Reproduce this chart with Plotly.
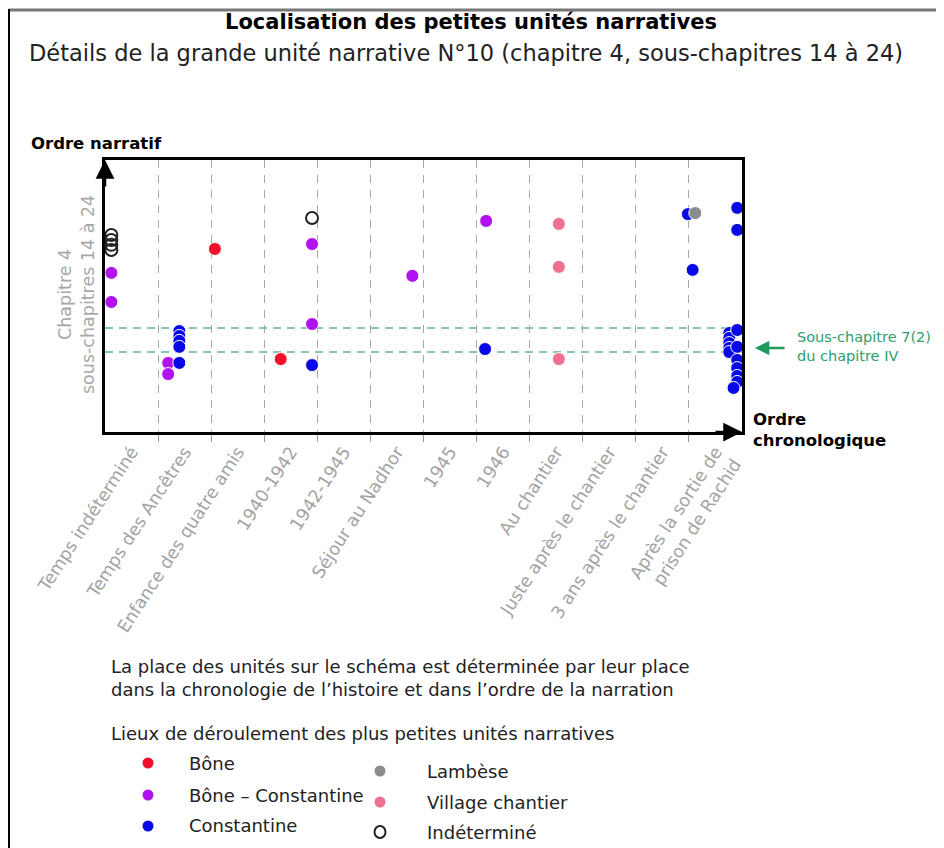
import plotly.graph_objects as go

# ---------------- data ----------------
categories = ["Temps indéterminé", "Temps des Ancêtres", "Enfance des quatre amis",
              "1940-1942", "1942-1945", "Séjour au Nadhor", "1945", "1946",
              "Au chantier", "Juste après le chantier", "3 ans après le chantier",
              "Après la sortie de<br>prison de Rachid"]

bone_x = [2.07, 3.31]
bone_y = [67.3, 26.8]

bone_const_x = [0.12, 0.12, 1.19, 1.19, 3.90, 3.90, 5.79, 7.18]
bone_const_y = [58.5, 47.8, 25.4, 21.3, 69.1, 39.7, 57.4, 77.6]

const_x = [1.40, 1.40, 1.40, 1.40, 1.40, 3.90, 7.16, 10.98, 11.07, 11.91, 11.91,
           11.76, 11.76, 11.76, 11.76, 11.76,
           11.91, 11.91, 11.91, 11.91, 11.91, 11.91, 11.84]
const_y = [37.1, 35.3, 33.5, 31.3, 25.4, 24.6, 30.5, 80.1, 59.6, 82.4, 74.3,
           36.4, 34.6, 32.7, 30.9, 29.4,
           37.5, 31.3, 26.5, 23.5, 20.6, 18.4, 16.2]

lambese_x = [11.12]
lambese_y = [80.5]

village_x = [8.55, 8.55, 8.55]
village_y = [76.5, 60.7, 26.8]

indet_x = [0.12, 0.12, 0.12, 0.12, 3.90]
indet_y = [72.4, 70.6, 68.8, 66.9, 78.7]

sous_chapitre_band = [38.2, 29.4]   # sous-chapitre 7(2) du chapitre IV

series_names = ["Bône", "Bône – Constantine", "Constantine", "Lambèse", "Village chantier", "Indéterminé"]
series_colors = ["#f2102c", "#b012f0", "#0808e6", "#8c8c8c", "#f0708f", "#222222"]

# ---------------- geometry helpers (reference pixel -> paper) ----------------
OFF = 8                      # page body margin
W, H = 944 - OFF, 848 - OFF
L, R, T, B = 105 - OFF, 742 - OFF, 160 - OFF, 432 - OFF
def px(x): return (x - OFF - L) / (R - L)
def py(y): return (B - (y - OFF)) / (B - T)

FONT = "DejaVu Sans"
fig = go.Figure()

def add_series(xs, ys, name, color, open_=False):
    if open_:
        marker = dict(symbol="circle-open", size=12, color=color, line=dict(width=2, color=color))
    else:
        marker = dict(symbol="circle", size=13, color=color, line=dict(width=1, color="white"))
    fig.add_trace(go.Scatter(x=xs, y=ys, mode="markers", name=name, marker=marker,
                             showlegend=False, cliponaxis=False, hoverinfo="skip"))

add_series(indet_x, indet_y, series_names[5], series_colors[5], open_=True)
add_series(bone_const_x, bone_const_y, series_names[1], series_colors[1])
add_series(bone_x, bone_y, series_names[0], series_colors[0])
add_series(village_x, village_y, series_names[4], series_colors[4])
add_series(const_x, const_y, series_names[2], series_colors[2])
add_series(lambese_x, lambese_y, series_names[3], series_colors[3])

# green reference band lines
for yv in sous_chapitre_band:
    fig.add_shape(type="line", xref="x", yref="y", x0=0, x1=12.07, y0=yv, y1=yv,
                  line=dict(color="#5fb394", width=1.5, dash="8px,6px"), layer="below")

fig.update_xaxes(range=[0, 12], tickmode="array",
                 tickvals=[i + 0.5 for i in range(len(categories))], ticktext=categories,
                 tickangle=-57, ticks="", showgrid=False, zeroline=False,
                 tickfont=dict(family=FONT, size=17.5, color="#a3a3a3"),
                 showline=True, linecolor="black", linewidth=2.5, mirror=True,
                 minor=dict(tickmode="array", tickvals=list(range(1, 12)), ticks="outside",
                            ticklen=7, tickcolor="#999999", showgrid=True,
                            gridcolor="#a8a8a8", gridwidth=1, griddash="8px,7px"))
fig.update_yaxes(range=[0, 100], showticklabels=False, ticks="", showgrid=False, zeroline=False,
                 showline=True, linecolor="black", linewidth=2.5, mirror=True)

ann = []
# axis arrows
ann.append(dict(xref="x", yref="y", x=0, y=100, ax=0, ay=28,
                text="", showarrow=True, arrowhead=2, arrowsize=1.5, arrowwidth=2.5, arrowcolor="black"))
ann.append(dict(xref="x", yref="y", x=12, y=0, ax=-28, ay=0,
                text="", showarrow=True, arrowhead=2, arrowsize=1.5, arrowwidth=2.5, arrowcolor="black"))
# green arrow + label
ann.append(dict(xref="paper", yref="paper", x=px(755), y=py(348), ax=31, ay=0, text="", showarrow=True,
                arrowhead=2, arrowsize=1.1, arrowwidth=2.6, arrowcolor="#1f9a5e"))
ann.append(dict(xref="paper", yref="paper", x=px(795), y=py(346), xanchor="left", yanchor="middle",
                text="Sous-chapitre 7(2)<br>du chapitre IV", showarrow=False, align="left",
                font=dict(family=FONT, size=14.5, color="#2e9e6c")))
# axis titles
ann.append(dict(xref="paper", yref="paper", x=px(29), y=py(143), xanchor="left", yanchor="middle",
                text="<b>Ordre narratif</b>", showarrow=False,
                font=dict(family=FONT, size=16.5, color="black")))
ann.append(dict(xref="paper", yref="paper", x=px(751), y=py(430), xanchor="left", yanchor="middle",
                text="<b>Ordre<br>chronologique</b>", showarrow=False, align="left",
                font=dict(family=FONT, size=16.5, color="black")))
ann.append(dict(xref="paper", yref="paper", x=px(76), y=py(295), xanchor="center", yanchor="middle",
                text="Chapitre 4<br>sous-chapitres 14 à 24", showarrow=False, textangle=-90,
                font=dict(family=FONT, size=17.5, color="#a8a8a8")))
# titles
ann.append(dict(xref="paper", yref="paper", x=px(471), y=py(22), xanchor="center", yanchor="middle",
                text="<b>Localisation des petites unités narratives</b>", showarrow=False,
                font=dict(family=FONT, size=21, color="black")))
ann.append(dict(xref="paper", yref="paper", x=px(466), y=py(53), xanchor="center", yanchor="middle",
                text="Détails de la grande unité narrative N°10 (chapitre 4, sous-chapitres 14 à 24)",
                showarrow=False, font=dict(family=FONT, size=22.5, color="#222222")))
# explanation text
ann.append(dict(xref="paper", yref="paper", x=px(109), y=py(678), xanchor="left", yanchor="middle",
                text="La place des unités sur le schéma est déterminée par leur place<br>dans la chronologie de l’histoire et dans l’ordre de la narration",
                showarrow=False, align="left", font=dict(family=FONT, size=18, color="#222222")))
ann.append(dict(xref="paper", yref="paper", x=px(109), y=py(733), xanchor="left", yanchor="middle",
                text="Lieux de déroulement des plus petites unités narratives",
                showarrow=False, align="left", font=dict(family=FONT, size=18, color="#222222")))

# custom legend
legend_pos = [(148, 763), (148, 795), (148, 826), (380, 771), (380, 802), (380, 832)]
for i, (name, col) in enumerate(zip(series_names, series_colors)):
    mx, my = legend_pos[i]
    r = 5.5
    if i == 5:
        fig.add_shape(type="circle", xref="paper", yref="paper",
                      x0=px(mx - r), x1=px(mx + r), y0=py(my + r + 0.5), y1=py(my - r - 0.5),
                      line=dict(color=col, width=2), fillcolor="white")
    else:
        fig.add_shape(type="circle", xref="paper", yref="paper",
                      x0=px(mx - r), x1=px(mx + r), y0=py(my + r), y1=py(my - r),
                      line=dict(color=col, width=0), fillcolor=col)
    tx = 187 if mx < 300 else 425
    ann.append(dict(xref="paper", yref="paper", x=px(tx), y=py(my), xanchor="left", yanchor="middle",
                    text=name, showarrow=False, font=dict(family=FONT, size=18, color="#222222")))

# outer frame lines
fig.add_shape(type="line", xref="paper", yref="paper", x0=px(9), x1=px(944), y0=py(10), y1=py(10),
              line=dict(color="#777777", width=3))
fig.add_shape(type="line", xref="paper", yref="paper", x0=px(9), x1=px(9), y0=py(9), y1=py(848),
              line=dict(color="black", width=2))

fig.update_layout(width=W, height=H, margin=dict(l=L, r=W - R, t=T, b=H - B),
                  paper_bgcolor="white", plot_bgcolor="white", annotations=ann,
                  font=dict(family=FONT), showlegend=False)

fig.write_html("out.html")
